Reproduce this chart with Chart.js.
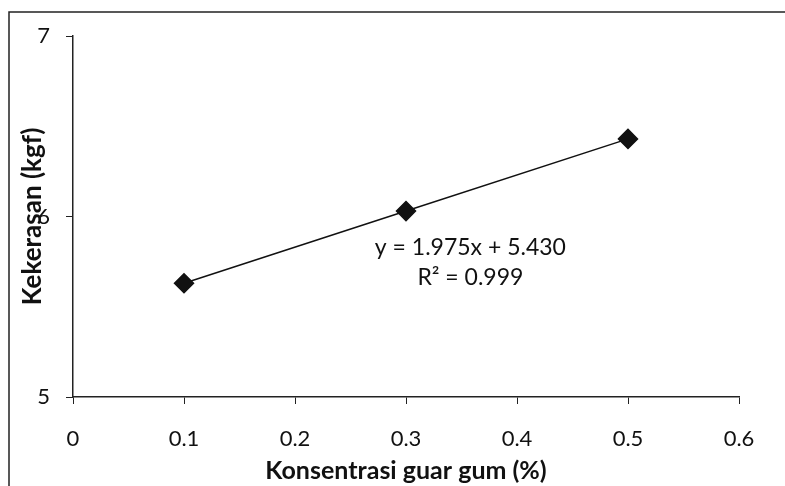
<!DOCTYPE html>
<html>
<head>
<meta charset="utf-8">
<script src="https://cdn.jsdelivr.net/npm/chart.js@4.4.0/dist/chart.umd.min.js"></script>
<style>
  html, body { margin: 0; padding: 0; background: #fff; }
  #wrap { width: 785px; height: 486px; position: relative; }
</style>
</head>
<body>
<div id="wrap"><canvas id="kekerasanChart" width="785" height="486"></canvas></div>
<script>
// Data kekerasan terhadap konsentrasi guar gum
const konsentrasi = [0.1, 0.3, 0.5];
const kekerasan = [5.63, 6.03, 6.43];
const xTicks = [0, 0.1, 0.2, 0.3, 0.4, 0.5, 0.6];
const yTicks = [5, 6, 7];
const persamaan = ['y = 1.975x + 5.430', 'R² = 0.999'];

const FONT = 'Lato, "Open Sans", sans-serif';

// Bingkai luar (garis atas dan kiri) + teks persamaan
const annotasi = {
    id: 'annotasi',
    beforeDraw(chart) {
        const c = chart.ctx;
        c.save();
        c.strokeStyle = '#222';
        c.lineWidth = 1.5;
        c.beginPath();
        c.moveTo(9, 486);
        c.lineTo(9, 12);
        c.lineTo(785, 12);
        c.stroke();
        c.restore();
    },
    afterDatasetsDraw(chart) {
        const c = chart.ctx;
        const xs = chart.scales.x, ys = chart.scales.y;
        c.save();
        c.fillStyle = '#111';
        c.font = '23px ' + FONT;
        c.textAlign = 'center';
        c.textBaseline = 'middle';
        c.fillText(persamaan[0], xs.getPixelForValue(0.358), ys.getPixelForValue(5.83));
        c.fillText(persamaan[1], xs.getPixelForValue(0.358), ys.getPixelForValue(5.66));
        c.restore();
    }
};

const ctx = document.getElementById('kekerasanChart').getContext('2d');
new Chart(ctx, {
    type: 'scatter',
    data: {
        datasets: [{
            label: 'Kekerasan',
            data: konsentrasi.map((x, i) => ({ x: x, y: kekerasan[i] })),
            showLine: true,
            borderColor: '#111',
            borderWidth: 1.5,
            backgroundColor: '#111',
            pointStyle: 'rectRot',
            pointRadius: 9.5,
            pointHoverRadius: 9.5
        }]
    },
    options: {
        responsive: false,
        animation: false,
        layout: { padding: { top: 36, right: 46, left: 14, bottom: 0 } },
        plugins: {
            legend: { display: false },
            tooltip: { enabled: false }
        },
        scales: {
            x: {
                type: 'linear',
                min: 0,
                max: 0.6,
                afterBuildTicks(scale) { scale.ticks = xTicks.map(v => ({ value: v })); },
                afterFit(scale) { scale.height = 89; },
                ticks: {
                    color: '#111',
                    font: { family: FONT, size: 22 },
                    padding: 22,
                    callback: v => String(v)
                },
                grid: { drawOnChartArea: false, tickLength: 7, color: '#222' },
                border: { color: '#222', width: 1.5 },
                title: {
                    display: true,
                    text: 'Konsentrasi guar gum (%)',
                    color: '#111',
                    font: { family: FONT, size: 25, weight: 'bold' },
                    padding: { top: 0, bottom: 0 }
                }
            },
            y: {
                min: 5,
                max: 7,
                afterBuildTicks(scale) { scale.ticks = yTicks.map(v => ({ value: v })); },
                afterFit(scale) { scale.width = 59; },
                ticks: {
                    color: '#111',
                    font: { family: FONT, size: 22 },
                    padding: 16
                },
                grid: { drawOnChartArea: false, tickLength: 7, color: '#222' },
                border: { color: '#222', width: 1.5 },
                title: {
                    display: true,
                    text: 'Kekerasan (kgf)',
                    color: '#111',
                    font: { family: FONT, size: 26, weight: 'bold' },
                    padding: { top: 3, bottom: 0 }
                }
            }
        }
    },
    plugins: [annotasi]
});
</script>
</body>
</html>
